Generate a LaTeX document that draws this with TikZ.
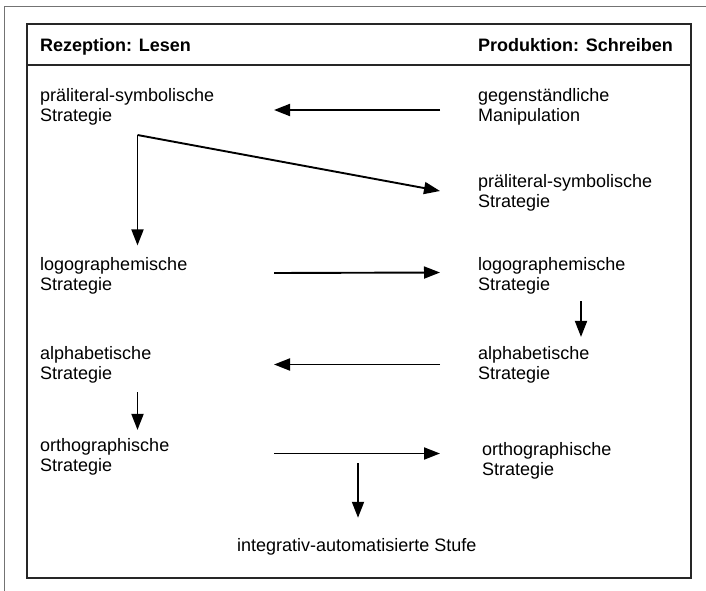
\documentclass[tikz,border=0pt]{standalone}
\usepackage{fontspec}
\setmainfont{Liberation Sans}
\usetikzlibrary{calc}
\usetikzlibrary{arrows.meta}
\tikzset{
  txt/.style={inner sep=0pt, align=left, anchor=west, font=\fontsize{18}{20}\selectfont},
  kopf/.style={inner sep=0pt, anchor=base west, font=\fontsize{18}{20}\selectfont\bfseries},
  pfeil/.style={line width=1.9pt, -{Triangle[length=16pt,width=12pt]}},
}

\begin{document}
\begin{tikzpicture}[x=1pt, y=-1pt]
        \useasboundingbox (0,0) rectangle (706,591);
        % outer frame
        \draw[black!55, line width=1pt] (4,591) -- (4,7) -- (706,7);
        % box with header
        \draw[black!85, line width=2pt] (27,24) rectangle (690.5,578);
        \draw[black!85, line width=2pt] (27,65) -- (690.5,65);
        \node[kopf] (kl) at (40,52) {Rezeption: Lesen};
        \node[kopf] (kr) at (478,52) {Produktion: Schreiben};
        % left column
        \node[txt] (lps) at (40,107) {präliteral-symbolische\\Strategie};
        \node[txt] (llog) at (40,276) {logographemische\\Strategie};
        \node[txt] (lalph) at (40,364.5) {alphabetische\\Strategie};
        \node[txt] (lorth) at (40,456.5) {orthographische\\Strategie};
        % right column
        \node[txt] (rgeg) at (478,107) {gegenständliche\\Manipulation};
        \node[txt] (rps) at (478,193) {präliteral-symbolische\\Strategie};
        \node[txt] (rlog) at (478,275.5) {logographemische\\Strategie};
        \node[txt] (ralph) at (478,364.5) {alphabetische\\Strategie};
        \node[txt] (rorth) at (482,460.5) {orthographische\\Strategie};
        % bottom
        \node[txt, anchor=base west] (integ) at (237,551) {integrativ-automatisierte Stufe};
        % arrows
        \coordinate (sl) at (274,0);
        \coordinate (sr) at (440,0);
        \coordinate (knick) at (137.5,135);
        \coordinate (ast) at (358,463);
        \draw[pfeil] ($(rgeg.west -| sr)+(0,3)$) -- ($(lps.east -| sl)+(0,3)$);
        \draw[pfeil] (knick) -- ($(rps.west -| sr)+(0,-2)$);
        \draw[pfeil, shorten >=12pt] (knick) -- (knick |- llog.north);
        \draw[pfeil] ($(llog.east -| sl)+(0,-3)$) -- ($(rlog.west -| sr)+(0,-3)$);
        \draw[pfeil, shorten <=7pt, shorten >=9pt] ($(rlog.south west)+(103,0)$) -- ($(ralph.north west)+(103,0)$);
        \draw[pfeil] (ralph.west -| sr) -- (lalph.east -| sl);
        \draw[pfeil, shorten <=9pt, shorten >=8pt] (knick |- lalph.south) -- (knick |- lorth.north);
        \draw[pfeil] ($(lorth.east -| sl)+(0,-3)$) -- ($(rorth.west -| sr)+(0,-7)$);
        \draw[pfeil, shorten >=20pt] (ast) -- (ast |- integ.north);
\end{tikzpicture}
\end{document}
